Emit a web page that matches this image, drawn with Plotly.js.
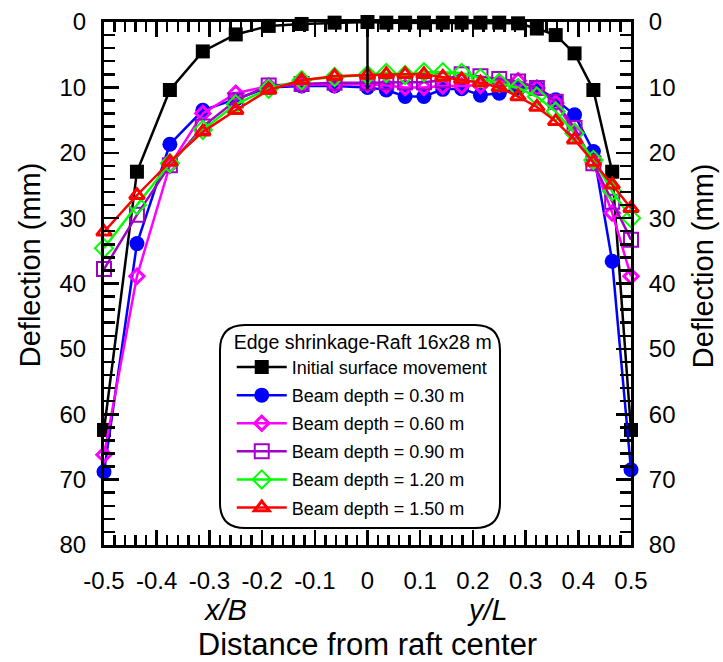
<!DOCTYPE html>
<html>
<head>
<meta charset="utf-8">
<script src="https://cdn.plot.ly/plotly-3.0.1.min.js"></script>
<style>html,body{margin:0;padding:0;background:#fff;}#chart{width:723px;height:662px;}</style>
</head>
<body>
<div id="chart"></div>
<script>
// x positions: left half x/B (B = 16 m), right half y/L (L = 28 m)
const xPos = [-0.5, -0.4375, -0.375, -0.3125, -0.25, -0.1875, -0.125, -0.0625, 0,
  0.0357, 0.0714, 0.1071, 0.1429, 0.1786, 0.2143, 0.25, 0.2857, 0.3214, 0.3571, 0.3929, 0.4286, 0.4643, 0.5];

const initialMove = [62.4, 22.9, 10.4, 4.5, 1.9, 0.6, 0.3, 0.1, 0,
  0.1, 0.1, 0.1, 0.1, 0.1, 0.1, 0.1, 0.2, 1.0, 2.0, 4.8, 10.4, 22.9, 62.4];
const beam030 = [68.8, 33.9, 18.7, 13.5, 11.8, 10.0, 9.8, 9.8, 10.0,
  10.4, 11.4, 11.4, 10.3, 10.2, 11.2, 10.9, 10.2, 10.0, 11.9, 14.2, 19.8, 36.6, 68.5];
const beam060 = [66.2, 38.9, 21.9, 14.0, 10.9, 9.8, 9.6, 9.6, 9.5,
  9.7, 10.0, 10.0, 9.8, 9.8, 9.7, 9.5, 9.0, 10.1, 12.4, 16.8, 21.5, 29.2, 38.9];
const beam090 = [37.8, 29.5, 21.9, 16.0, 12.0, 9.7, 9.5, 9.3, 9.3,
  9.2, 9.2, 9.2, 8.9, 8.0, 8.3, 8.7, 9.1, 10.1, 12.2, 16.2, 21.6, 27.5, 33.3];
const beam120 = [34.6, 28.0, 21.6, 16.5, 12.6, 10.2, 8.9, 8.4, 8.1,
  7.8, 8.1, 7.7, 7.7, 7.8, 8.6, 9.3, 10.1, 11.4, 13.7, 17.0, 21.1, 25.9, 30.0];
const beam150 = [32.1, 26.5, 21.4, 16.8, 13.5, 10.4, 8.9, 8.3, 8.1,
  8.0, 8.0, 8.0, 8.4, 8.8, 9.3, 10.0, 11.4, 13.0, 15.2, 18.0, 21.4, 24.9, 28.5];

// centre divider line
const dividerX = [0, 0];
const dividerY = [0, 10.3];

const seriesNames = ["Initial surface movement", "Beam depth = 0.30 m", "Beam depth = 0.60 m",
  "Beam depth = 0.90 m", "Beam depth = 1.20 m", "Beam depth = 1.50 m"];

const xTickVals = [-0.5, -0.4, -0.3, -0.2, -0.1, 0, 0.1, 0.2, 0.3, 0.4, 0.5];
const xTickText = ["-0.5", "-0.4", "-0.3", "-0.2", "-0.1", "0", "0.1", "0.2", "0.3", "0.4", "0.5"];
const yTickVals = [0, 10, 20, 30, 40, 50, 60, 70, 80];

const FONT = "Liberation Sans, Arial, sans-serif";

const styles = [
  {color: "#000000", symbol: "square", size: 14, lw: 0},
  {color: "#0000FF", symbol: "circle", size: 15, lw: 0},
  {color: "#FF00FF", symbol: "diamond-open", size: 11, lw: 3},
  {color: "#A000C8", symbol: "square-open", size: 14, lw: 2},
  {color: "#00FF00", symbol: "diamond-open", size: 14, lw: 2},
  {color: "#FF0000", symbol: "triangle-up-open", size: 13, lw: 3}
];
const seriesVals = [initialMove, beam030, beam060, beam090, beam120, beam150];

const traces = seriesVals.map((vals, i) => ({
  type: "scatter", mode: "lines+markers",
  x: xPos, y: vals, name: seriesNames[i],
  legendgroup: "g" + i,
  cliponaxis: false,
  line: {color: styles[i].color, width: 2.5},
  marker: {color: styles[i].color, symbol: styles[i].symbol, size: styles[i].size,
           line: {color: styles[i].color, width: styles[i].lw}}
}));

traces.push({
  type: "scatter", mode: "lines", x: dividerX, y: dividerY,
  xaxis: "x2", yaxis: "y2", showlegend: false, hoverinfo: "skip",
  line: {color: "#000000", width: 2.5}
});

const axisCommon = {
  showgrid: false, zeroline: false, showline: true, linecolor: "#000", linewidth: 3,
  ticks: "inside", ticklen: 15, tickwidth: 2.5, tickcolor: "#000",
  tickfont: {family: FONT, size: 24, color: "#000"}
};

const layout = {
  width: 723, height: 662,
  margin: {l: 104, r: 92, t: 22, b: 117},
  paper_bgcolor: "#fff", plot_bgcolor: "#fff",
  font: {family: FONT, color: "#000"},
  xaxis: Object.assign({}, axisCommon, {
    range: [-0.5, 0.5], tickvals: xTickVals, ticktext: xTickText,
    minor: {dtick: 0.02, ticks: "inside", ticklen: 10, tickwidth: 2.5, tickcolor: "#000"},
    ticklabelstandoff: 12,
    title: {text: "Distance from raft center", font: {family: FONT, size: 31}, standoff: 47}
  }),
  xaxis2: Object.assign({}, axisCommon, {
    range: [-0.5, 0.5], overlaying: "x", side: "top", showticklabels: false,
    tickvals: xTickVals,
    minor: {dtick: 0.02, ticks: "inside", ticklen: 10, tickwidth: 2.5, tickcolor: "#000"}
  }),
  yaxis: Object.assign({}, axisCommon, {
    range: [80, 0], tickvals: yTickVals,
    minor: {dtick: 2, ticks: "inside", ticklen: 11, tickwidth: 2.5, tickcolor: "#000"},
    ticklabelstandoff: 10
  }),
  yaxis2: Object.assign({}, axisCommon, {
    range: [80, 0], overlaying: "y", side: "right", tickvals: yTickVals,
    minor: {dtick: 2, ticks: "inside", ticklen: 11, tickwidth: 2.5, tickcolor: "#000"},
    ticklabelstandoff: 10
  }),
  showlegend: true,
  legend: {
    x: 0.2424, y: 0.4235, xanchor: "left", yanchor: "top",
    bgcolor: "rgba(0,0,0,0)", borderwidth: 0,
    font: {family: FONT, size: 18, color: "#000"},
    title: {text: "Edge shrinkage-Raft 16x28 m", font: {family: FONT, size: 19.5, color: "#000"}},
    tracegroupgap: 1.7, itemwidth: 50
  },
  shapes: [{
    type: "path", xref: "paper", yref: "paper",
    path: "M 0.2675 0.4207 L 0.7040 0.4207 Q 0.7514 0.4207 0.7514 0.3729 L 0.7514 0.0803 Q 0.7514 0.0325 0.7040 0.0325 L 0.2675 0.0325 Q 0.2201 0.0325 0.2201 0.0803 L 0.2201 0.3729 Q 0.2201 0.4207 0.2675 0.4207 Z",
    line: {color: "#000", width: 2}, fillcolor: "rgba(255,255,255,0)"
  }],
  annotations: [
    {text: "Deflection (mm)", xref: "paper", yref: "paper", x: -0.1404, y: 0.535, textangle: -90,
     xanchor: "center", yanchor: "middle",
     showarrow: false, font: {family: FONT, size: 29, color: "#000"}},
    {text: "Deflection (mm)", xref: "paper", yref: "paper", x: 1.1366, y: 0.535, textangle: -90,
     xanchor: "center", yanchor: "middle",
     showarrow: false, font: {family: FONT, size: 29, color: "#000"}},
    {text: "<i>x/B</i>", xref: "paper", yref: "paper", x: 0.23, y: -0.1243, showarrow: false,
     xanchor: "center", yanchor: "middle",
     font: {family: FONT, size: 29, color: "#000"}},
    {text: "<i>y/L</i>", xref: "paper", yref: "paper", x: 0.727, y: -0.1243, showarrow: false,
     xanchor: "center", yanchor: "middle",
     font: {family: FONT, size: 29, color: "#000"}}
  ]
};

Plotly.newPlot("chart", traces, layout, {displayModeBar: false, staticPlot: true});
</script>
</body>
</html>
